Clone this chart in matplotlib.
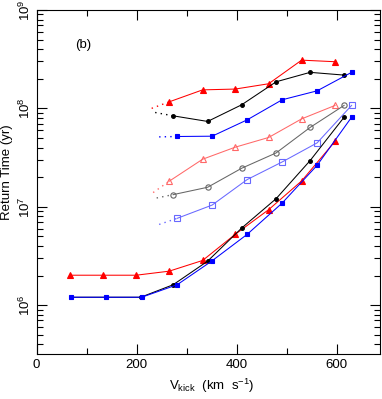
import numpy as np
import matplotlib
matplotlib.use("Agg")
import matplotlib.pyplot as plt
from matplotlib.ticker import LogLocator, FixedLocator, NullFormatter, FuncFormatter

plt.rcParams['font.family'] = ['Liberation Sans', 'DejaVu Sans']
plt.rcParams['mathtext.fontset'] = 'custom'
plt.rcParams['mathtext.rm'] = 'Liberation Sans'
plt.rcParams['mathtext.it'] = 'Liberation Sans:italic'

# ---- data (log10 of return time in yr) ----
# upper group, filled markers
v_tri_up = [265, 332, 397, 464, 530, 597]
t_tri_up = [8.066, 8.188, 8.196, 8.25, 8.49, 8.474]
v_circ_up = [273, 342, 410, 479, 547, 615]
t_circ_up = [7.924, 7.867, 8.036, 8.27, 8.366, 8.338]
v_sq_up = [281, 351, 421, 491, 561, 630]
t_sq_up = [7.714, 7.717, 7.883, 8.087, 8.178, 8.366]
# middle group, open markers
v_tri_mid = [265, 332, 397, 464, 530, 597]
t_tri_mid = [7.259, 7.483, 7.605, 7.704, 7.893, 8.030]
v_circ_mid = [273, 342, 410, 479, 547, 615]
t_circ_mid = [7.123, 7.198, 7.391, 7.547, 7.806, 8.030]
v_sq_mid = [281, 351, 421, 491, 561, 630]
t_sq_mid = [6.882, 7.017, 7.276, 7.455, 7.649, 8.030]
# lower group, filled markers
v_tri_lo = [67, 133, 199, 265, 332, 397, 464, 530, 597]
t_tri_lo = [6.304, 6.304, 6.304, 6.345, 6.454, 6.719, 6.970, 7.262, 7.666]
v_circ_lo = [69, 139, 208, 273, 342, 410, 479, 547, 615]
t_circ_lo = [6.08, 6.08, 6.08, 6.207, 6.447, 6.783, 7.082, 7.469, 7.910]
v_sq_lo = [69, 139, 210, 281, 350, 421, 491, 561, 630]
t_sq_lo = [6.08, 6.08, 6.08, 6.207, 6.447, 6.719, 7.037, 7.421, 7.910]
# dotted lead-in start points (v, log t)
lead_tri_up = (230, 8.00)
lead_circ_up = (237, 7.958)
lead_sq_up = (245, 7.71)
lead_tri_mid = (233, 7.144)
lead_circ_mid = (240, 7.089)
lead_sq_mid = (245, 6.82)

fig = plt.figure(figsize=(3.82, 3.99), dpi=100)
ax = fig.add_axes([0.096, 0.112, 0.899, 0.863])

RED, BLK, BLU = '#ff0000', '#000000', '#0000ff'
LRED, LBLK, LBLU = '#ff6868', '#666666', '#6868ff'
lw = 0.75

def series(v, t, color, marker, filled, lead=None, lcolor=None, ms=3.5):
    y = 10 ** np.array(t)
    lc = lcolor if lcolor else color
    ax.plot(v, y, color=lc, lw=lw, marker=marker, ms=ms,
            mfc=color if filled else 'none', mec=color if filled else lc, mew=0.8)
    if lead is not None:
        ax.plot([lead[0], v[0]], [10 ** lead[1], y[0]], color=lc, lw=1.0,
                ls=(0, (1, 3)))

series(v_tri_up, t_tri_up, RED, '^', True, lead_tri_up, ms=3.8)
series(v_circ_up, t_circ_up, BLK, 'o', True, lead_circ_up, ms=2.7)
series(v_sq_up, t_sq_up, BLU, 's', True, lead_sq_up, ms=2.7)
series(v_tri_mid, t_tri_mid, RED, '^', False, lead_tri_mid, LRED, ms=4.8)
series(v_circ_mid, t_circ_mid, BLK, 'o', False, lead_circ_mid, LBLK, ms=3.8)
series(v_sq_mid, t_sq_mid, BLU, 's', False, lead_sq_mid, LBLU, ms=4.6)
series(v_tri_lo, t_tri_lo, RED, '^', True, ms=3.8)
series(v_circ_lo, t_circ_lo, BLK, 'o', True, ms=2.7)
series(v_sq_lo, t_sq_lo, BLU, 's', True, ms=2.7)

ax.set_yscale('log')
ax.set_xlim(0, 687)
ax.set_ylim(10 ** 5.5, 1e9)

ax.xaxis.set_major_locator(FixedLocator([0, 200, 400, 600]))
ax.xaxis.set_minor_locator(FixedLocator([100, 300, 500]))
ax.yaxis.set_major_locator(LogLocator(base=10, numticks=10))
ax.yaxis.set_minor_locator(LogLocator(base=10, subs=np.arange(2, 10), numticks=20))
ax.yaxis.set_minor_formatter(NullFormatter())
ax.yaxis.set_major_formatter(FuncFormatter(lambda v, p: r'$10^{%d}$' % round(np.log10(v))))

ax.tick_params(which='both', direction='in', top=True, right=True, labelsize=9.5)
ax.tick_params(which='major', length=7, width=0.8)
ax.tick_params(which='minor', length=4, width=0.8)
for lab in ax.get_yticklabels():
    lab.set_rotation(90)
    lab.set_va('center')
ax.tick_params(axis='y', pad=3)
for s in ax.spines.values():
    s.set_linewidth(0.8)

ax.text(77, 10 ** 8.64, '(b)', fontsize=9.5, ha='left', va='center')
ax.set_ylabel('Return Time (yr)', fontsize=9.5)
ax.yaxis.set_label_coords(-0.068, 0.53)
ax.set_xlabel(r'V$_{\mathrm{kick}}$  (km  s$^{-1}$)', fontsize=9.5)
ax.xaxis.set_label_coords(0.51, -0.066)

fig.savefig('out.png', dpi=100)
